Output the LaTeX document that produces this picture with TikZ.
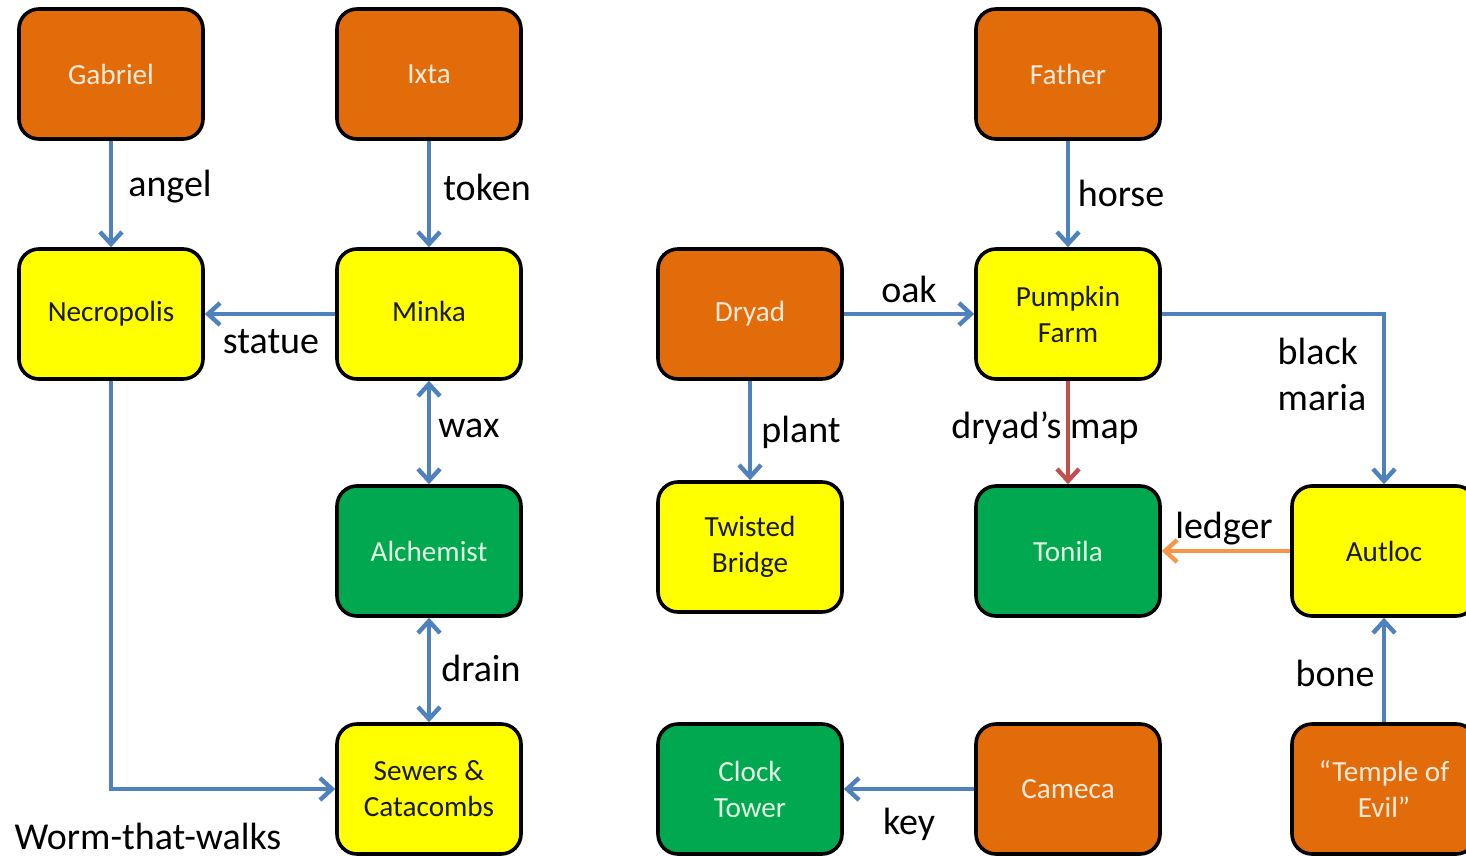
\documentclass[tikz,border=0pt]{standalone}
\usepackage{fontspec}
\setmainfont{Carlito}
\usetikzlibrary{arrows.meta,positioning}
\definecolor{boxorange}{HTML}{E36C0A}
\definecolor{boxyellow}{HTML}{FFFF00}
\definecolor{boxgreen}{HTML}{00A850}
\definecolor{orangetext}{HTML}{FDEADA}
\definecolor{greentext}{HTML}{E4F6E4}
\definecolor{linkblue}{HTML}{4F81BD}
\definecolor{linkred}{HTML}{C0504D}
\definecolor{linkorange}{HTML}{F79646}

\begin{document}
\begin{tikzpicture}[x=0.5pt,y=-0.5pt,
  room/.style={draw=black,line width=1.8pt,rounded corners=10pt,
    minimum width=92pt,minimum height=65pt,align=center,
    font=\fontsize{14.6}{18}\selectfont},
  npc/.style={room,fill=boxorange,text=orangetext},
  place/.style={room,fill=boxyellow,text=black!90},
  ally/.style={room,fill=boxgreen,text=greentext},
  link/.style={line width=2.2pt,draw=linkblue,-{Straight Barb[length=6pt,width=11pt]}},
  twoway/.style={link,{Straight Barb[length=6pt,width=11pt]}-{Straight Barb[length=6pt,width=11pt]}},
  lbl/.style={inner sep=0pt,align=left,font=\fontsize{19}{23}\selectfont}]
  \useasboundingbox (0,0) rectangle (1466,856);
  %draw the boxes
  \node[npc] (gabriel) at (111,74) {Gabriel};
  \node[npc] (ixta) at (429,74) {Ixta};
  \node[npc] (father) at (1068,74) {Father};
  \node[place] (necropolis) at (111,314) {Necropolis\vphantom{k}};
  \node[place] (minka) at (429,314) {Minka\vphantom{p}};
  \node[npc] (dryad) at (750,314) {Dryad};
  \node[place] (pumpkin) at (1068,314) {Pumpkin\\Farm};
  \node[ally] (alchemist) at (429,551) {Alchemist};
  \node[place] (bridge) at (750,547) {Twisted\\Bridge};
  \node[ally] (tonila) at (1068,551) {Tonila};
  \node[place] (autloc) at (1384,551) {Autloc};
  \node[place] (sewers) at (429,789) {Sewers \&\\Catacombs};
  \node[ally] (clock) at (750,789) {Clock\\Tower};
  \node[npc] (cameca) at (1068,789) {Cameca};
  \node[npc] (temple) at (1384,789) {“Temple of\\Evil”};
  %draw the links
  \draw[link] (gabriel) -- (necropolis);
  \draw[link] (ixta) -- (minka);
  \draw[link] (minka) -- (necropolis);
  \draw[twoway] (minka) -- (alchemist);
  \draw[twoway] (alchemist) -- (sewers);
  \draw[link] (necropolis.south) |- (sewers.west);
  \draw[link] (father) -- (pumpkin);
  \draw[link] (dryad) -- (pumpkin);
  \draw[link] (dryad) -- (bridge);
  \draw[link,draw=linkred] (pumpkin) -- (tonila);
  \draw[link] (pumpkin.east) -| (autloc.north);
  \draw[link,draw=linkorange] (autloc) -- (tonila);
  \draw[link] (temple) -- (autloc);
  \draw[link] (cameca) -- (clock);
  %draw the labels
  \node[lbl] (angel) at (170,187) {angel};
  \node[lbl] (token) at (487,187) {token};
  \node[lbl] (statue) at (271,342) {statue};
  \node[lbl] (wax) at (469,428) {wax};
  \node[lbl] (drain) at (481,668) {drain};
  \node[lbl] (worm) at (148,836) {Worm-that-walks};
  \node[lbl] (horse) at (1121,193) {horse};
  \node[lbl] (oak) at (909,289) {oak};
  \node[lbl] (plant) at (801,432) {plant};
  \node[lbl] (dmap) at (1045,428) {dryad’s map};
  \node[lbl] (maria) at (1322,374) {black\\maria};
  \node[lbl] (ledger) at (1224,529) {ledger};
  \node[lbl] (bone) at (1335,673) {bone};
  \node[lbl] (key) at (909,824) {key};
\end{tikzpicture}
\end{document}
